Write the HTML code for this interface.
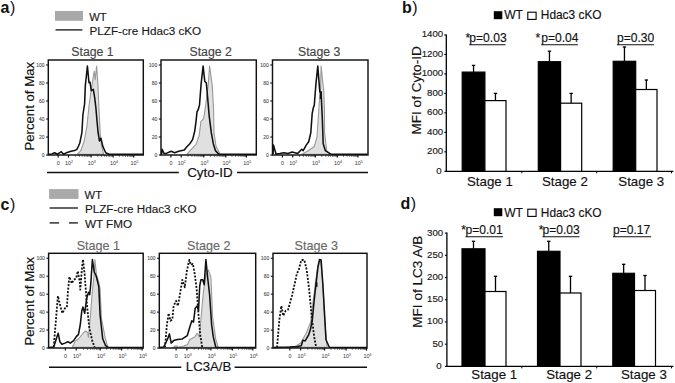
<!DOCTYPE html>
<html><head><meta charset="utf-8">
<style>
html,body{margin:0;padding:0;background:#fff;}
body{width:675px;height:383px;overflow:hidden;}
svg{display:block;font-family:"Liberation Sans", sans-serif;}
</style></head>
<body>
<svg width="675" height="383" viewBox="0 0 675 383">
<rect width="675" height="383" fill="#fff"/>
<text x="0.5" y="12.8" font-size="16" fill="#111"><tspan font-weight="bold">a</tspan><tspan dx="0.5">)</tspan></text>
<text x="402" y="12.8" font-size="16" fill="#111"><tspan font-weight="bold">b</tspan><tspan dx="0.5">)</tspan></text>
<text x="0.5" y="209.5" font-size="16" fill="#111"><tspan font-weight="bold">c</tspan><tspan dx="0.5">)</tspan></text>
<text x="400.5" y="209.3" font-size="16" fill="#111"><tspan font-weight="bold">d</tspan><tspan dx="0.5">)</tspan></text>
<rect x="55" y="11" width="28" height="9.8" fill="#a9a9a9" stroke="none" stroke-width="1"/>
<text x="89.2" y="20.6" font-size="11.2" fill="#1a1a1a" stroke="#1a1a1a" stroke-width="0.15" text-anchor="start" font-weight="normal" >WT</text>
<line x1="55.50" y1="29.90" x2="82.40" y2="29.90" stroke="#222" stroke-width="1.4" />
<text x="89.5" y="34.8" font-size="11.7" fill="#1a1a1a" stroke="#1a1a1a" stroke-width="0.15" text-anchor="start" font-weight="normal" >PLZF-cre Hdac3 cKO</text>
<rect x="49.1" y="189.1" width="29.4" height="9.8" fill="#a9a9a9" stroke="none" stroke-width="1"/>
<text x="84.60000000000001" y="198.7" font-size="11.2" fill="#1a1a1a" stroke="#1a1a1a" stroke-width="0.15" text-anchor="start" font-weight="normal" >WT</text>
<line x1="49.60" y1="208.00" x2="77.90" y2="208.00" stroke="#222" stroke-width="1.4" />
<text x="84.9" y="212.9" font-size="11.7" fill="#1a1a1a" stroke="#1a1a1a" stroke-width="0.15" text-anchor="start" font-weight="normal" >PLZF-cre Hdac3 cKO</text>
<line x1="49.60" y1="222.90" x2="59.10" y2="222.90" stroke="#222" stroke-width="1.4" />
<line x1="69.00" y1="222.90" x2="77.90" y2="222.90" stroke="#222" stroke-width="1.4" />
<text x="84.9" y="227.7" font-size="11.7" fill="#1a1a1a" stroke="#1a1a1a" stroke-width="0.15" text-anchor="start" font-weight="normal" >WT FMO</text>
<polygon points="77.3,154.2 80.8,150.7 84.2,141.0 87.0,125.8 89.1,105.0 92.0,85.0 94.2,71.0 95.2,80.0 96.6,66.1 97.9,84.0 98.9,108.0 100.2,132.7 101.6,146.6 103.6,154.2" fill="#e0e0e0" stroke="#9a9a9a" stroke-width="1.1" stroke-linejoin="round"/>
<polyline points="48.5,154.3 52.0,154.0 54.6,152.7 57.6,154.2 61.3,151.7 63.5,154.2 67.2,152.4 70.9,151.2 74.6,150.6 76.9,149.4 78.3,146.5 79.8,143.0 81.9,132.7 82.9,115.0 83.8,109.0 84.6,104.0 85.3,86.0 87.4,66.1 89.0,82.8 90.0,82.1 91.3,90.6 93.3,89.3 94.6,97.2 95.9,108.0 96.7,117.5 98.1,132.7 99.5,141.0 100.9,138.2 102.9,146.6 105.7,152.8 109.2,154.2 143.0,154.3" fill="none" stroke="#111" stroke-width="1.55" stroke-linejoin="round"/>
<polygon points="187.0,154.2 191.2,149.3 196.0,144.4 199.2,135.4 200.9,121.6 203.6,118.8 205.7,105.0 208.3,84.0 209.6,66.1 212.2,85.4 213.5,108.0 214.0,132.7 216.1,146.5 220.2,154.2" fill="#e0e0e0" stroke="#9a9a9a" stroke-width="1.1" stroke-linejoin="round"/>
<polyline points="161.5,154.3 162.1,149.3 164.0,153.4 166.3,153.4 171.1,151.3 174.6,152.7 178.7,151.3 184.3,150.0 186.4,147.2 189.8,143.7 192.6,139.6 194.7,131.3 196.0,121.6 197.0,111.9 198.4,109.1 199.5,105.0 201.1,84.1 203.1,66.1 204.8,81.5 206.3,82.8 207.6,97.2 209.2,116.1 211.3,132.7 213.3,143.7 215.4,150.6 218.9,154.2 256.0,154.3" fill="none" stroke="#111" stroke-width="1.55" stroke-linejoin="round"/>
<polygon points="301.8,154.2 307.3,151.3 314.3,146.5 317.0,136.8 319.1,105.0 320.5,90.0 321.1,66.1 323.7,90.6 324.4,108.0 324.6,132.7 326.7,150.6 329.5,154.2" fill="#e0e0e0" stroke="#9a9a9a" stroke-width="1.1" stroke-linejoin="round"/>
<polyline points="273.0,154.3 273.5,145.1 276.0,154.0 280.0,153.5 283.8,152.7 288.0,153.5 292.1,152.0 297.7,153.4 301.8,149.3 303.2,150.6 306.2,145.1 308.7,141.7 310.8,132.7 312.2,113.3 313.3,108.0 314.3,105.0 315.9,84.1 317.8,66.1 319.2,84.1 319.8,92.0 321.1,92.0 321.8,108.0 322.3,118.0 323.2,143.7 325.3,150.6 330.9,154.2 367.5,154.3" fill="none" stroke="#111" stroke-width="1.55" stroke-linejoin="round"/>
<polygon points="72.3,347.3 75.3,341.0 78.5,339.0 83.2,333.0 85.8,331.0 87.7,332.5 88.4,337.5 90.5,315.0 92.3,291.8 94.2,274.9 94.9,259.5 96.5,275.0 98.8,282.0 100.1,289.0 101.4,318.0 105.4,338.8 108.0,347.3" fill="#e0e0e0" stroke="#9a9a9a" stroke-width="1.1" stroke-linejoin="round"/>
<polyline points="53.7,347.0 57.9,296.0 59.9,304.6 62.4,313.3 64.9,308.3 66.9,307.1 67.9,292.2 69.4,276.8 71.8,283.5 73.6,279.8 76.1,278.6 77.8,271.1 79.8,282.3 80.3,289.7 81.8,269.9 83.0,259.5 84.7,274.9 86.7,302.1 89.2,327.0 92.2,340.6 94.7,347.5" fill="none" stroke="#111" stroke-width="1.8" stroke-dasharray="2 1.5" stroke-linejoin="round"/>
<polyline points="48.8,347.5 53.7,347.0 56.9,336.9 58.2,333.2 59.9,341.8 61.9,344.3 64.9,343.1 67.9,341.8 70.3,343.1 73.6,340.6 76.1,336.9 78.5,334.4 80.3,324.5 81.8,310.8 83.0,307.1 84.7,313.3 86.7,298.4 88.5,292.2 89.7,294.7 90.9,282.3 92.4,259.5 94.2,272.0 96.2,276.0 98.8,286.6 100.1,315.0 102.7,338.8 105.4,345.3 108.0,347.3 143.0,347.5" fill="none" stroke="#111" stroke-width="1.55" stroke-linejoin="round"/>
<polygon points="173.0,347.3 176.0,345.8 178.5,347.0 184.0,346.0 187.5,344.5 189.8,339.4 194.7,336.9 197.2,333.2 199.2,336.9 200.9,319.5 203.4,292.2 205.9,274.9 208.4,269.9 210.9,277.3 212.6,317.0 215.8,339.4 218.3,347.3" fill="#e0e0e0" stroke="#9a9a9a" stroke-width="1.1" stroke-linejoin="round"/>
<polyline points="165.0,347.5 166.9,324.5 168.7,313.3 170.4,320.8 172.4,319.5 173.6,305.9 176.1,300.9 177.9,305.9 179.9,294.7 182.3,279.8 184.8,287.3 186.8,271.1 189.3,260.0 191.0,264.9 192.8,263.7 194.7,273.6 196.7,289.7 198.5,314.6 200.2,334.4 202.2,347.5" fill="none" stroke="#111" stroke-width="1.8" stroke-dasharray="2 1.5" stroke-linejoin="round"/>
<polyline points="159.6,347.5 163.7,347.0 167.4,339.4 169.4,333.9 171.2,343.1 173.6,340.6 177.4,339.4 182.3,338.9 187.3,335.6 189.8,327.0 191.8,320.8 193.5,322.0 195.2,308.3 197.2,305.9 198.5,310.8 199.7,286.0 200.9,279.8 202.7,279.8 204.2,284.8 205.9,259.5 207.6,277.3 209.6,294.7 211.6,324.5 213.3,336.9 215.8,347.3 255.5,347.5" fill="none" stroke="#111" stroke-width="1.55" stroke-linejoin="round"/>
<polygon points="285.0,347.3 295.2,346.5 300.7,343.0 306.2,333.2 310.6,322.2 313.0,302.1 316.2,277.3 318.6,261.2 320.6,260.0 322.9,284.8 324.6,319.5 327.1,347.3" fill="#e0e0e0" stroke="#9a9a9a" stroke-width="1.1" stroke-linejoin="round"/>
<polyline points="277.0,347.5 279.4,319.5 281.4,305.9 283.2,315.8 285.6,310.8 288.1,309.6 291.9,296.0 295.6,279.8 296.8,273.6 298.8,269.9 301.3,260.0 304.3,260.0 306.7,269.9 309.2,289.7 311.7,317.0 314.2,336.9 316.2,347.5" fill="none" stroke="#111" stroke-width="1.8" stroke-dasharray="2 1.5" stroke-linejoin="round"/>
<polyline points="273.3,347.5 280.0,347.2 290.0,347.0 297.4,346.5 301.3,345.8 302.9,340.3 305.1,340.9 308.4,335.4 310.6,328.8 312.3,320.0 314.2,300.0 316.2,282.3 317.9,267.4 319.6,259.5 321.1,260.0 322.9,284.8 324.9,320.0 326.0,339.8 329.3,347.3 366.8,347.5" fill="none" stroke="#111" stroke-width="1.55" stroke-linejoin="round"/>
<rect x="319.7" y="91.5" width="2.1" height="7.5" fill="#111" stroke="none" stroke-width="1"/>
<rect x="315.6" y="282.3" width="1.9" height="4.6" fill="#111" stroke="none" stroke-width="1"/>
<line x1="46.10" y1="155.00" x2="48.30" y2="155.00" stroke="#111" stroke-width="1.1" />
<text x="44.5" y="156.8" font-size="5" fill="#444" stroke="#444" stroke-width="0.08" text-anchor="end" font-weight="normal" >0</text>
<line x1="46.10" y1="137.00" x2="48.30" y2="137.00" stroke="#111" stroke-width="1.1" />
<text x="44.5" y="138.8" font-size="5" fill="#444" stroke="#444" stroke-width="0.08" text-anchor="end" font-weight="normal" >20</text>
<line x1="46.10" y1="119.00" x2="48.30" y2="119.00" stroke="#111" stroke-width="1.1" />
<text x="44.5" y="120.8" font-size="5" fill="#444" stroke="#444" stroke-width="0.08" text-anchor="end" font-weight="normal" >40</text>
<line x1="46.10" y1="101.00" x2="48.30" y2="101.00" stroke="#111" stroke-width="1.1" />
<text x="44.5" y="102.8" font-size="5" fill="#444" stroke="#444" stroke-width="0.08" text-anchor="end" font-weight="normal" >60</text>
<line x1="46.10" y1="83.00" x2="48.30" y2="83.00" stroke="#111" stroke-width="1.1" />
<text x="44.5" y="84.8" font-size="5" fill="#444" stroke="#444" stroke-width="0.08" text-anchor="end" font-weight="normal" >80</text>
<line x1="46.10" y1="65.00" x2="48.30" y2="65.00" stroke="#111" stroke-width="1.1" />
<text x="44.5" y="66.8" font-size="5" fill="#444" stroke="#444" stroke-width="0.08" text-anchor="end" font-weight="normal" >100</text>
<line x1="75.30" y1="155.00" x2="75.30" y2="156.90" stroke="#555" stroke-width="0.8" />
<line x1="79.28" y1="155.00" x2="79.28" y2="156.90" stroke="#555" stroke-width="0.8" />
<line x1="82.11" y1="155.00" x2="82.11" y2="156.90" stroke="#555" stroke-width="0.8" />
<line x1="84.30" y1="155.00" x2="84.30" y2="156.90" stroke="#555" stroke-width="0.8" />
<line x1="86.09" y1="155.00" x2="86.09" y2="156.90" stroke="#555" stroke-width="0.8" />
<line x1="87.60" y1="155.00" x2="87.60" y2="156.90" stroke="#555" stroke-width="0.8" />
<line x1="88.91" y1="155.00" x2="88.91" y2="156.90" stroke="#555" stroke-width="0.8" />
<line x1="90.07" y1="155.00" x2="90.07" y2="156.90" stroke="#555" stroke-width="0.8" />
<line x1="97.72" y1="155.00" x2="97.72" y2="156.90" stroke="#555" stroke-width="0.8" />
<line x1="101.60" y1="155.00" x2="101.60" y2="156.90" stroke="#555" stroke-width="0.8" />
<line x1="104.35" y1="155.00" x2="104.35" y2="156.90" stroke="#555" stroke-width="0.8" />
<line x1="106.48" y1="155.00" x2="106.48" y2="156.90" stroke="#555" stroke-width="0.8" />
<line x1="108.22" y1="155.00" x2="108.22" y2="156.90" stroke="#555" stroke-width="0.8" />
<line x1="109.69" y1="155.00" x2="109.69" y2="156.90" stroke="#555" stroke-width="0.8" />
<line x1="110.97" y1="155.00" x2="110.97" y2="156.90" stroke="#555" stroke-width="0.8" />
<line x1="112.09" y1="155.00" x2="112.09" y2="156.90" stroke="#555" stroke-width="0.8" />
<line x1="119.30" y1="155.00" x2="119.30" y2="156.90" stroke="#555" stroke-width="0.8" />
<line x1="122.93" y1="155.00" x2="122.93" y2="156.90" stroke="#555" stroke-width="0.8" />
<line x1="125.50" y1="155.00" x2="125.50" y2="156.90" stroke="#555" stroke-width="0.8" />
<line x1="127.50" y1="155.00" x2="127.50" y2="156.90" stroke="#555" stroke-width="0.8" />
<line x1="129.13" y1="155.00" x2="129.13" y2="156.90" stroke="#555" stroke-width="0.8" />
<line x1="130.51" y1="155.00" x2="130.51" y2="156.90" stroke="#555" stroke-width="0.8" />
<line x1="131.70" y1="155.00" x2="131.70" y2="156.90" stroke="#555" stroke-width="0.8" />
<line x1="132.76" y1="155.00" x2="132.76" y2="156.90" stroke="#555" stroke-width="0.8" />
<line x1="113.10" y1="155.00" x2="113.10" y2="157.60" stroke="#111" stroke-width="1.2" />
<line x1="91.10" y1="155.00" x2="91.10" y2="157.60" stroke="#111" stroke-width="1.2" />
<line x1="68.50" y1="155.00" x2="68.50" y2="157.60" stroke="#111" stroke-width="1.2" />
<line x1="133.70" y1="155.00" x2="133.70" y2="157.60" stroke="#111" stroke-width="1.2" />
<line x1="58.20" y1="155.00" x2="58.20" y2="157.60" stroke="#111" stroke-width="1.2" />
<rect x="48.3" y="60" width="95.00000000000001" height="95" fill="none" stroke="#111" stroke-width="1.45"/>
<text x="71.3" y="55.5" font-size="12.3" fill="#444" stroke="#444" stroke-width="0.15" text-anchor="start" font-weight="normal" >Stage 1</text>
<text x="58.199999999999996" y="165.3" font-size="5.4" fill="#333" text-anchor="middle">0</text>
<text x="69.1" y="165.3" font-size="5.4" fill="#333" text-anchor="middle">10<tspan dy="-2" font-size="3.6">2</tspan></text>
<text x="91.8" y="165.3" font-size="5.4" fill="#333" text-anchor="middle">10<tspan dy="-2" font-size="3.6">3</tspan></text>
<text x="113.89999999999999" y="165.3" font-size="5.4" fill="#333" text-anchor="middle">10<tspan dy="-2" font-size="3.6">4</tspan></text>
<text x="134.5" y="165.3" font-size="5.4" fill="#333" text-anchor="middle">10<tspan dy="-2" font-size="3.6">5</tspan></text>
<line x1="158.80" y1="155.00" x2="161.00" y2="155.00" stroke="#111" stroke-width="1.1" />
<text x="157.2" y="156.8" font-size="5" fill="#444" stroke="#444" stroke-width="0.08" text-anchor="end" font-weight="normal" >0</text>
<line x1="158.80" y1="137.00" x2="161.00" y2="137.00" stroke="#111" stroke-width="1.1" />
<text x="157.2" y="138.8" font-size="5" fill="#444" stroke="#444" stroke-width="0.08" text-anchor="end" font-weight="normal" >20</text>
<line x1="158.80" y1="119.00" x2="161.00" y2="119.00" stroke="#111" stroke-width="1.1" />
<text x="157.2" y="120.8" font-size="5" fill="#444" stroke="#444" stroke-width="0.08" text-anchor="end" font-weight="normal" >40</text>
<line x1="158.80" y1="101.00" x2="161.00" y2="101.00" stroke="#111" stroke-width="1.1" />
<text x="157.2" y="102.8" font-size="5" fill="#444" stroke="#444" stroke-width="0.08" text-anchor="end" font-weight="normal" >60</text>
<line x1="158.80" y1="83.00" x2="161.00" y2="83.00" stroke="#111" stroke-width="1.1" />
<text x="157.2" y="84.8" font-size="5" fill="#444" stroke="#444" stroke-width="0.08" text-anchor="end" font-weight="normal" >80</text>
<line x1="158.80" y1="65.00" x2="161.00" y2="65.00" stroke="#111" stroke-width="1.1" />
<text x="157.2" y="66.8" font-size="5" fill="#444" stroke="#444" stroke-width="0.08" text-anchor="end" font-weight="normal" >100</text>
<line x1="188.00" y1="155.00" x2="188.00" y2="156.90" stroke="#555" stroke-width="0.8" />
<line x1="191.98" y1="155.00" x2="191.98" y2="156.90" stroke="#555" stroke-width="0.8" />
<line x1="194.81" y1="155.00" x2="194.81" y2="156.90" stroke="#555" stroke-width="0.8" />
<line x1="197.00" y1="155.00" x2="197.00" y2="156.90" stroke="#555" stroke-width="0.8" />
<line x1="198.79" y1="155.00" x2="198.79" y2="156.90" stroke="#555" stroke-width="0.8" />
<line x1="200.30" y1="155.00" x2="200.30" y2="156.90" stroke="#555" stroke-width="0.8" />
<line x1="201.61" y1="155.00" x2="201.61" y2="156.90" stroke="#555" stroke-width="0.8" />
<line x1="202.77" y1="155.00" x2="202.77" y2="156.90" stroke="#555" stroke-width="0.8" />
<line x1="210.42" y1="155.00" x2="210.42" y2="156.90" stroke="#555" stroke-width="0.8" />
<line x1="214.30" y1="155.00" x2="214.30" y2="156.90" stroke="#555" stroke-width="0.8" />
<line x1="217.05" y1="155.00" x2="217.05" y2="156.90" stroke="#555" stroke-width="0.8" />
<line x1="219.18" y1="155.00" x2="219.18" y2="156.90" stroke="#555" stroke-width="0.8" />
<line x1="220.92" y1="155.00" x2="220.92" y2="156.90" stroke="#555" stroke-width="0.8" />
<line x1="222.39" y1="155.00" x2="222.39" y2="156.90" stroke="#555" stroke-width="0.8" />
<line x1="223.67" y1="155.00" x2="223.67" y2="156.90" stroke="#555" stroke-width="0.8" />
<line x1="224.79" y1="155.00" x2="224.79" y2="156.90" stroke="#555" stroke-width="0.8" />
<line x1="232.00" y1="155.00" x2="232.00" y2="156.90" stroke="#555" stroke-width="0.8" />
<line x1="235.63" y1="155.00" x2="235.63" y2="156.90" stroke="#555" stroke-width="0.8" />
<line x1="238.20" y1="155.00" x2="238.20" y2="156.90" stroke="#555" stroke-width="0.8" />
<line x1="240.20" y1="155.00" x2="240.20" y2="156.90" stroke="#555" stroke-width="0.8" />
<line x1="241.83" y1="155.00" x2="241.83" y2="156.90" stroke="#555" stroke-width="0.8" />
<line x1="243.21" y1="155.00" x2="243.21" y2="156.90" stroke="#555" stroke-width="0.8" />
<line x1="244.40" y1="155.00" x2="244.40" y2="156.90" stroke="#555" stroke-width="0.8" />
<line x1="245.46" y1="155.00" x2="245.46" y2="156.90" stroke="#555" stroke-width="0.8" />
<line x1="225.80" y1="155.00" x2="225.80" y2="157.60" stroke="#111" stroke-width="1.2" />
<line x1="203.80" y1="155.00" x2="203.80" y2="157.60" stroke="#111" stroke-width="1.2" />
<line x1="181.20" y1="155.00" x2="181.20" y2="157.60" stroke="#111" stroke-width="1.2" />
<line x1="246.40" y1="155.00" x2="246.40" y2="157.60" stroke="#111" stroke-width="1.2" />
<line x1="170.90" y1="155.00" x2="170.90" y2="157.60" stroke="#111" stroke-width="1.2" />
<rect x="161" y="60" width="95.30000000000001" height="95" fill="none" stroke="#111" stroke-width="1.45"/>
<text x="189.5" y="55.5" font-size="12.3" fill="#444" stroke="#444" stroke-width="0.15" text-anchor="start" font-weight="normal" >Stage 2</text>
<text x="170.9" y="165.3" font-size="5.4" fill="#333" text-anchor="middle">0</text>
<text x="181.8" y="165.3" font-size="5.4" fill="#333" text-anchor="middle">10<tspan dy="-2" font-size="3.6">2</tspan></text>
<text x="204.5" y="165.3" font-size="5.4" fill="#333" text-anchor="middle">10<tspan dy="-2" font-size="3.6">3</tspan></text>
<text x="226.6" y="165.3" font-size="5.4" fill="#333" text-anchor="middle">10<tspan dy="-2" font-size="3.6">4</tspan></text>
<text x="247.2" y="165.3" font-size="5.4" fill="#333" text-anchor="middle">10<tspan dy="-2" font-size="3.6">5</tspan></text>
<line x1="270.30" y1="155.00" x2="272.50" y2="155.00" stroke="#111" stroke-width="1.1" />
<text x="268.7" y="156.8" font-size="5" fill="#444" stroke="#444" stroke-width="0.08" text-anchor="end" font-weight="normal" >0</text>
<line x1="270.30" y1="137.00" x2="272.50" y2="137.00" stroke="#111" stroke-width="1.1" />
<text x="268.7" y="138.8" font-size="5" fill="#444" stroke="#444" stroke-width="0.08" text-anchor="end" font-weight="normal" >20</text>
<line x1="270.30" y1="119.00" x2="272.50" y2="119.00" stroke="#111" stroke-width="1.1" />
<text x="268.7" y="120.8" font-size="5" fill="#444" stroke="#444" stroke-width="0.08" text-anchor="end" font-weight="normal" >40</text>
<line x1="270.30" y1="101.00" x2="272.50" y2="101.00" stroke="#111" stroke-width="1.1" />
<text x="268.7" y="102.8" font-size="5" fill="#444" stroke="#444" stroke-width="0.08" text-anchor="end" font-weight="normal" >60</text>
<line x1="270.30" y1="83.00" x2="272.50" y2="83.00" stroke="#111" stroke-width="1.1" />
<text x="268.7" y="84.8" font-size="5" fill="#444" stroke="#444" stroke-width="0.08" text-anchor="end" font-weight="normal" >80</text>
<line x1="270.30" y1="65.00" x2="272.50" y2="65.00" stroke="#111" stroke-width="1.1" />
<text x="268.7" y="66.8" font-size="5" fill="#444" stroke="#444" stroke-width="0.08" text-anchor="end" font-weight="normal" >100</text>
<line x1="299.50" y1="155.00" x2="299.50" y2="156.90" stroke="#555" stroke-width="0.8" />
<line x1="303.48" y1="155.00" x2="303.48" y2="156.90" stroke="#555" stroke-width="0.8" />
<line x1="306.31" y1="155.00" x2="306.31" y2="156.90" stroke="#555" stroke-width="0.8" />
<line x1="308.50" y1="155.00" x2="308.50" y2="156.90" stroke="#555" stroke-width="0.8" />
<line x1="310.29" y1="155.00" x2="310.29" y2="156.90" stroke="#555" stroke-width="0.8" />
<line x1="311.80" y1="155.00" x2="311.80" y2="156.90" stroke="#555" stroke-width="0.8" />
<line x1="313.11" y1="155.00" x2="313.11" y2="156.90" stroke="#555" stroke-width="0.8" />
<line x1="314.27" y1="155.00" x2="314.27" y2="156.90" stroke="#555" stroke-width="0.8" />
<line x1="321.92" y1="155.00" x2="321.92" y2="156.90" stroke="#555" stroke-width="0.8" />
<line x1="325.80" y1="155.00" x2="325.80" y2="156.90" stroke="#555" stroke-width="0.8" />
<line x1="328.55" y1="155.00" x2="328.55" y2="156.90" stroke="#555" stroke-width="0.8" />
<line x1="330.68" y1="155.00" x2="330.68" y2="156.90" stroke="#555" stroke-width="0.8" />
<line x1="332.42" y1="155.00" x2="332.42" y2="156.90" stroke="#555" stroke-width="0.8" />
<line x1="333.89" y1="155.00" x2="333.89" y2="156.90" stroke="#555" stroke-width="0.8" />
<line x1="335.17" y1="155.00" x2="335.17" y2="156.90" stroke="#555" stroke-width="0.8" />
<line x1="336.29" y1="155.00" x2="336.29" y2="156.90" stroke="#555" stroke-width="0.8" />
<line x1="343.50" y1="155.00" x2="343.50" y2="156.90" stroke="#555" stroke-width="0.8" />
<line x1="347.13" y1="155.00" x2="347.13" y2="156.90" stroke="#555" stroke-width="0.8" />
<line x1="349.70" y1="155.00" x2="349.70" y2="156.90" stroke="#555" stroke-width="0.8" />
<line x1="351.70" y1="155.00" x2="351.70" y2="156.90" stroke="#555" stroke-width="0.8" />
<line x1="353.33" y1="155.00" x2="353.33" y2="156.90" stroke="#555" stroke-width="0.8" />
<line x1="354.71" y1="155.00" x2="354.71" y2="156.90" stroke="#555" stroke-width="0.8" />
<line x1="355.90" y1="155.00" x2="355.90" y2="156.90" stroke="#555" stroke-width="0.8" />
<line x1="356.96" y1="155.00" x2="356.96" y2="156.90" stroke="#555" stroke-width="0.8" />
<line x1="337.30" y1="155.00" x2="337.30" y2="157.60" stroke="#111" stroke-width="1.2" />
<line x1="315.30" y1="155.00" x2="315.30" y2="157.60" stroke="#111" stroke-width="1.2" />
<line x1="292.70" y1="155.00" x2="292.70" y2="157.60" stroke="#111" stroke-width="1.2" />
<line x1="357.90" y1="155.00" x2="357.90" y2="157.60" stroke="#111" stroke-width="1.2" />
<line x1="282.40" y1="155.00" x2="282.40" y2="157.60" stroke="#111" stroke-width="1.2" />
<rect x="272.5" y="60" width="95.5" height="95" fill="none" stroke="#111" stroke-width="1.45"/>
<text x="298" y="55.7" font-size="12.3" fill="#444" stroke="#444" stroke-width="0.15" text-anchor="start" font-weight="normal" >Stage 3</text>
<text x="282.4" y="165.3" font-size="5.4" fill="#333" text-anchor="middle">0</text>
<text x="293.3" y="165.3" font-size="5.4" fill="#333" text-anchor="middle">10<tspan dy="-2" font-size="3.6">2</tspan></text>
<text x="316.0" y="165.3" font-size="5.4" fill="#333" text-anchor="middle">10<tspan dy="-2" font-size="3.6">3</tspan></text>
<text x="338.1" y="165.3" font-size="5.4" fill="#333" text-anchor="middle">10<tspan dy="-2" font-size="3.6">4</tspan></text>
<text x="358.7" y="165.3" font-size="5.4" fill="#333" text-anchor="middle">10<tspan dy="-2" font-size="3.6">5</tspan></text>
<line x1="46.40" y1="348.00" x2="48.60" y2="348.00" stroke="#111" stroke-width="1.1" />
<text x="44.800000000000004" y="349.8" font-size="5" fill="#444" stroke="#444" stroke-width="0.08" text-anchor="end" font-weight="normal" >0</text>
<line x1="46.40" y1="330.06" x2="48.60" y2="330.06" stroke="#111" stroke-width="1.1" />
<text x="44.800000000000004" y="331.86" font-size="5" fill="#444" stroke="#444" stroke-width="0.08" text-anchor="end" font-weight="normal" >20</text>
<line x1="46.40" y1="312.12" x2="48.60" y2="312.12" stroke="#111" stroke-width="1.1" />
<text x="44.800000000000004" y="313.92" font-size="5" fill="#444" stroke="#444" stroke-width="0.08" text-anchor="end" font-weight="normal" >40</text>
<line x1="46.40" y1="294.18" x2="48.60" y2="294.18" stroke="#111" stroke-width="1.1" />
<text x="44.800000000000004" y="295.98" font-size="5" fill="#444" stroke="#444" stroke-width="0.08" text-anchor="end" font-weight="normal" >60</text>
<line x1="46.40" y1="276.24" x2="48.60" y2="276.24" stroke="#111" stroke-width="1.1" />
<text x="44.800000000000004" y="278.04" font-size="5" fill="#444" stroke="#444" stroke-width="0.08" text-anchor="end" font-weight="normal" >80</text>
<line x1="46.40" y1="258.30" x2="48.60" y2="258.30" stroke="#111" stroke-width="1.1" />
<text x="44.800000000000004" y="260.1" font-size="5" fill="#444" stroke="#444" stroke-width="0.08" text-anchor="end" font-weight="normal" >100</text>
<line x1="83.42" y1="348.00" x2="83.42" y2="349.90" stroke="#555" stroke-width="0.8" />
<line x1="87.65" y1="348.00" x2="87.65" y2="349.90" stroke="#555" stroke-width="0.8" />
<line x1="90.65" y1="348.00" x2="90.65" y2="349.90" stroke="#555" stroke-width="0.8" />
<line x1="92.98" y1="348.00" x2="92.98" y2="349.90" stroke="#555" stroke-width="0.8" />
<line x1="94.88" y1="348.00" x2="94.88" y2="349.90" stroke="#555" stroke-width="0.8" />
<line x1="96.48" y1="348.00" x2="96.48" y2="349.90" stroke="#555" stroke-width="0.8" />
<line x1="97.87" y1="348.00" x2="97.87" y2="349.90" stroke="#555" stroke-width="0.8" />
<line x1="99.10" y1="348.00" x2="99.10" y2="349.90" stroke="#555" stroke-width="0.8" />
<line x1="106.67" y1="348.00" x2="106.67" y2="349.90" stroke="#555" stroke-width="0.8" />
<line x1="110.46" y1="348.00" x2="110.46" y2="349.90" stroke="#555" stroke-width="0.8" />
<line x1="113.14" y1="348.00" x2="113.14" y2="349.90" stroke="#555" stroke-width="0.8" />
<line x1="115.23" y1="348.00" x2="115.23" y2="349.90" stroke="#555" stroke-width="0.8" />
<line x1="116.93" y1="348.00" x2="116.93" y2="349.90" stroke="#555" stroke-width="0.8" />
<line x1="118.37" y1="348.00" x2="118.37" y2="349.90" stroke="#555" stroke-width="0.8" />
<line x1="119.62" y1="348.00" x2="119.62" y2="349.90" stroke="#555" stroke-width="0.8" />
<line x1="120.72" y1="348.00" x2="120.72" y2="349.90" stroke="#555" stroke-width="0.8" />
<line x1="127.84" y1="348.00" x2="127.84" y2="349.90" stroke="#555" stroke-width="0.8" />
<line x1="131.43" y1="348.00" x2="131.43" y2="349.90" stroke="#555" stroke-width="0.8" />
<line x1="133.98" y1="348.00" x2="133.98" y2="349.90" stroke="#555" stroke-width="0.8" />
<line x1="135.96" y1="348.00" x2="135.96" y2="349.90" stroke="#555" stroke-width="0.8" />
<line x1="137.57" y1="348.00" x2="137.57" y2="349.90" stroke="#555" stroke-width="0.8" />
<line x1="138.94" y1="348.00" x2="138.94" y2="349.90" stroke="#555" stroke-width="0.8" />
<line x1="140.12" y1="348.00" x2="140.12" y2="349.90" stroke="#555" stroke-width="0.8" />
<line x1="141.17" y1="348.00" x2="141.17" y2="349.90" stroke="#555" stroke-width="0.8" />
<line x1="100.20" y1="348.00" x2="100.20" y2="350.60" stroke="#111" stroke-width="1.2" />
<line x1="121.70" y1="348.00" x2="121.70" y2="350.60" stroke="#111" stroke-width="1.2" />
<line x1="76.20" y1="348.00" x2="76.20" y2="350.60" stroke="#111" stroke-width="1.2" />
<line x1="142.10" y1="348.00" x2="142.10" y2="350.60" stroke="#111" stroke-width="1.2" />
<line x1="65.40" y1="348.00" x2="65.40" y2="350.60" stroke="#111" stroke-width="1.2" />
<rect x="48.6" y="253.3" width="94.6" height="94.69999999999999" fill="none" stroke="#111" stroke-width="1.45"/>
<text x="76.7" y="249.7" font-size="12.6" fill="#6a6a6a" stroke="#6a6a6a" stroke-width="0.15" text-anchor="start" font-weight="normal" >Stage 1</text>
<text x="65.6" y="357.6" font-size="5.4" fill="#333" text-anchor="middle">0</text>
<text x="77.1" y="357.6" font-size="5.4" fill="#333" text-anchor="middle">10<tspan dy="-2" font-size="3.6">3</tspan></text>
<text x="101.1" y="357.6" font-size="5.4" fill="#333" text-anchor="middle">10<tspan dy="-2" font-size="3.6">4</tspan></text>
<text x="122.6" y="357.6" font-size="5.4" fill="#333" text-anchor="middle">10<tspan dy="-2" font-size="3.6">5</tspan></text>
<text x="143.0" y="357.6" font-size="5.4" fill="#333" text-anchor="middle">10<tspan dy="-2" font-size="3.6">6</tspan></text>
<line x1="157.10" y1="348.00" x2="159.30" y2="348.00" stroke="#111" stroke-width="1.1" />
<text x="155.5" y="349.8" font-size="5" fill="#444" stroke="#444" stroke-width="0.08" text-anchor="end" font-weight="normal" >0</text>
<line x1="157.10" y1="330.06" x2="159.30" y2="330.06" stroke="#111" stroke-width="1.1" />
<text x="155.5" y="331.86" font-size="5" fill="#444" stroke="#444" stroke-width="0.08" text-anchor="end" font-weight="normal" >20</text>
<line x1="157.10" y1="312.12" x2="159.30" y2="312.12" stroke="#111" stroke-width="1.1" />
<text x="155.5" y="313.92" font-size="5" fill="#444" stroke="#444" stroke-width="0.08" text-anchor="end" font-weight="normal" >40</text>
<line x1="157.10" y1="294.18" x2="159.30" y2="294.18" stroke="#111" stroke-width="1.1" />
<text x="155.5" y="295.98" font-size="5" fill="#444" stroke="#444" stroke-width="0.08" text-anchor="end" font-weight="normal" >60</text>
<line x1="157.10" y1="276.24" x2="159.30" y2="276.24" stroke="#111" stroke-width="1.1" />
<text x="155.5" y="278.04" font-size="5" fill="#444" stroke="#444" stroke-width="0.08" text-anchor="end" font-weight="normal" >80</text>
<line x1="157.10" y1="258.30" x2="159.30" y2="258.30" stroke="#111" stroke-width="1.1" />
<text x="155.5" y="260.1" font-size="5" fill="#444" stroke="#444" stroke-width="0.08" text-anchor="end" font-weight="normal" >100</text>
<line x1="194.12" y1="348.00" x2="194.12" y2="349.90" stroke="#555" stroke-width="0.8" />
<line x1="198.35" y1="348.00" x2="198.35" y2="349.90" stroke="#555" stroke-width="0.8" />
<line x1="201.35" y1="348.00" x2="201.35" y2="349.90" stroke="#555" stroke-width="0.8" />
<line x1="203.68" y1="348.00" x2="203.68" y2="349.90" stroke="#555" stroke-width="0.8" />
<line x1="205.58" y1="348.00" x2="205.58" y2="349.90" stroke="#555" stroke-width="0.8" />
<line x1="207.18" y1="348.00" x2="207.18" y2="349.90" stroke="#555" stroke-width="0.8" />
<line x1="208.57" y1="348.00" x2="208.57" y2="349.90" stroke="#555" stroke-width="0.8" />
<line x1="209.80" y1="348.00" x2="209.80" y2="349.90" stroke="#555" stroke-width="0.8" />
<line x1="217.37" y1="348.00" x2="217.37" y2="349.90" stroke="#555" stroke-width="0.8" />
<line x1="221.16" y1="348.00" x2="221.16" y2="349.90" stroke="#555" stroke-width="0.8" />
<line x1="223.84" y1="348.00" x2="223.84" y2="349.90" stroke="#555" stroke-width="0.8" />
<line x1="225.93" y1="348.00" x2="225.93" y2="349.90" stroke="#555" stroke-width="0.8" />
<line x1="227.63" y1="348.00" x2="227.63" y2="349.90" stroke="#555" stroke-width="0.8" />
<line x1="229.07" y1="348.00" x2="229.07" y2="349.90" stroke="#555" stroke-width="0.8" />
<line x1="230.32" y1="348.00" x2="230.32" y2="349.90" stroke="#555" stroke-width="0.8" />
<line x1="231.42" y1="348.00" x2="231.42" y2="349.90" stroke="#555" stroke-width="0.8" />
<line x1="238.54" y1="348.00" x2="238.54" y2="349.90" stroke="#555" stroke-width="0.8" />
<line x1="242.13" y1="348.00" x2="242.13" y2="349.90" stroke="#555" stroke-width="0.8" />
<line x1="244.68" y1="348.00" x2="244.68" y2="349.90" stroke="#555" stroke-width="0.8" />
<line x1="246.66" y1="348.00" x2="246.66" y2="349.90" stroke="#555" stroke-width="0.8" />
<line x1="248.27" y1="348.00" x2="248.27" y2="349.90" stroke="#555" stroke-width="0.8" />
<line x1="249.64" y1="348.00" x2="249.64" y2="349.90" stroke="#555" stroke-width="0.8" />
<line x1="250.82" y1="348.00" x2="250.82" y2="349.90" stroke="#555" stroke-width="0.8" />
<line x1="251.87" y1="348.00" x2="251.87" y2="349.90" stroke="#555" stroke-width="0.8" />
<line x1="232.40" y1="348.00" x2="232.40" y2="350.60" stroke="#111" stroke-width="1.2" />
<line x1="210.90" y1="348.00" x2="210.90" y2="350.60" stroke="#111" stroke-width="1.2" />
<line x1="186.90" y1="348.00" x2="186.90" y2="350.60" stroke="#111" stroke-width="1.2" />
<line x1="252.80" y1="348.00" x2="252.80" y2="350.60" stroke="#111" stroke-width="1.2" />
<line x1="176.10" y1="348.00" x2="176.10" y2="350.60" stroke="#111" stroke-width="1.2" />
<rect x="159.3" y="253.3" width="96.39999999999998" height="94.69999999999999" fill="none" stroke="#111" stroke-width="1.45"/>
<text x="187" y="249.7" font-size="12.6" fill="#6a6a6a" stroke="#6a6a6a" stroke-width="0.15" text-anchor="start" font-weight="normal" >Stage 2</text>
<text x="176.3" y="357.6" font-size="5.4" fill="#333" text-anchor="middle">0</text>
<text x="187.8" y="357.6" font-size="5.4" fill="#333" text-anchor="middle">10<tspan dy="-2" font-size="3.6">3</tspan></text>
<text x="211.8" y="357.6" font-size="5.4" fill="#333" text-anchor="middle">10<tspan dy="-2" font-size="3.6">4</tspan></text>
<text x="233.3" y="357.6" font-size="5.4" fill="#333" text-anchor="middle">10<tspan dy="-2" font-size="3.6">5</tspan></text>
<text x="253.70000000000002" y="357.6" font-size="5.4" fill="#333" text-anchor="middle">10<tspan dy="-2" font-size="3.6">6</tspan></text>
<line x1="270.80" y1="348.00" x2="273.00" y2="348.00" stroke="#111" stroke-width="1.1" />
<text x="269.2" y="349.8" font-size="5" fill="#444" stroke="#444" stroke-width="0.08" text-anchor="end" font-weight="normal" >0</text>
<line x1="270.80" y1="330.06" x2="273.00" y2="330.06" stroke="#111" stroke-width="1.1" />
<text x="269.2" y="331.86" font-size="5" fill="#444" stroke="#444" stroke-width="0.08" text-anchor="end" font-weight="normal" >20</text>
<line x1="270.80" y1="312.12" x2="273.00" y2="312.12" stroke="#111" stroke-width="1.1" />
<text x="269.2" y="313.92" font-size="5" fill="#444" stroke="#444" stroke-width="0.08" text-anchor="end" font-weight="normal" >40</text>
<line x1="270.80" y1="294.18" x2="273.00" y2="294.18" stroke="#111" stroke-width="1.1" />
<text x="269.2" y="295.98" font-size="5" fill="#444" stroke="#444" stroke-width="0.08" text-anchor="end" font-weight="normal" >60</text>
<line x1="270.80" y1="276.24" x2="273.00" y2="276.24" stroke="#111" stroke-width="1.1" />
<text x="269.2" y="278.04" font-size="5" fill="#444" stroke="#444" stroke-width="0.08" text-anchor="end" font-weight="normal" >80</text>
<line x1="270.80" y1="258.30" x2="273.00" y2="258.30" stroke="#111" stroke-width="1.1" />
<text x="269.2" y="260.1" font-size="5" fill="#444" stroke="#444" stroke-width="0.08" text-anchor="end" font-weight="normal" >100</text>
<line x1="307.82" y1="348.00" x2="307.82" y2="349.90" stroke="#555" stroke-width="0.8" />
<line x1="312.05" y1="348.00" x2="312.05" y2="349.90" stroke="#555" stroke-width="0.8" />
<line x1="315.05" y1="348.00" x2="315.05" y2="349.90" stroke="#555" stroke-width="0.8" />
<line x1="317.38" y1="348.00" x2="317.38" y2="349.90" stroke="#555" stroke-width="0.8" />
<line x1="319.28" y1="348.00" x2="319.28" y2="349.90" stroke="#555" stroke-width="0.8" />
<line x1="320.88" y1="348.00" x2="320.88" y2="349.90" stroke="#555" stroke-width="0.8" />
<line x1="322.27" y1="348.00" x2="322.27" y2="349.90" stroke="#555" stroke-width="0.8" />
<line x1="323.50" y1="348.00" x2="323.50" y2="349.90" stroke="#555" stroke-width="0.8" />
<line x1="331.07" y1="348.00" x2="331.07" y2="349.90" stroke="#555" stroke-width="0.8" />
<line x1="334.86" y1="348.00" x2="334.86" y2="349.90" stroke="#555" stroke-width="0.8" />
<line x1="337.54" y1="348.00" x2="337.54" y2="349.90" stroke="#555" stroke-width="0.8" />
<line x1="339.63" y1="348.00" x2="339.63" y2="349.90" stroke="#555" stroke-width="0.8" />
<line x1="341.33" y1="348.00" x2="341.33" y2="349.90" stroke="#555" stroke-width="0.8" />
<line x1="342.77" y1="348.00" x2="342.77" y2="349.90" stroke="#555" stroke-width="0.8" />
<line x1="344.02" y1="348.00" x2="344.02" y2="349.90" stroke="#555" stroke-width="0.8" />
<line x1="345.12" y1="348.00" x2="345.12" y2="349.90" stroke="#555" stroke-width="0.8" />
<line x1="352.24" y1="348.00" x2="352.24" y2="349.90" stroke="#555" stroke-width="0.8" />
<line x1="355.83" y1="348.00" x2="355.83" y2="349.90" stroke="#555" stroke-width="0.8" />
<line x1="358.38" y1="348.00" x2="358.38" y2="349.90" stroke="#555" stroke-width="0.8" />
<line x1="360.36" y1="348.00" x2="360.36" y2="349.90" stroke="#555" stroke-width="0.8" />
<line x1="361.97" y1="348.00" x2="361.97" y2="349.90" stroke="#555" stroke-width="0.8" />
<line x1="363.34" y1="348.00" x2="363.34" y2="349.90" stroke="#555" stroke-width="0.8" />
<line x1="364.52" y1="348.00" x2="364.52" y2="349.90" stroke="#555" stroke-width="0.8" />
<line x1="365.57" y1="348.00" x2="365.57" y2="349.90" stroke="#555" stroke-width="0.8" />
<line x1="346.10" y1="348.00" x2="346.10" y2="350.60" stroke="#111" stroke-width="1.2" />
<line x1="300.60" y1="348.00" x2="300.60" y2="350.60" stroke="#111" stroke-width="1.2" />
<line x1="366.50" y1="348.00" x2="366.50" y2="350.60" stroke="#111" stroke-width="1.2" />
<line x1="324.60" y1="348.00" x2="324.60" y2="350.60" stroke="#111" stroke-width="1.2" />
<line x1="289.80" y1="348.00" x2="289.80" y2="350.60" stroke="#111" stroke-width="1.2" />
<rect x="273" y="253.3" width="94" height="94.69999999999999" fill="none" stroke="#111" stroke-width="1.45"/>
<text x="294.6" y="250" font-size="12.6" fill="#6a6a6a" stroke="#6a6a6a" stroke-width="0.15" text-anchor="start" font-weight="normal" >Stage 3</text>
<text x="290" y="357.6" font-size="5.4" fill="#333" text-anchor="middle">0</text>
<text x="301.5" y="357.6" font-size="5.4" fill="#333" text-anchor="middle">10<tspan dy="-2" font-size="3.6">3</tspan></text>
<text x="325.5" y="357.6" font-size="5.4" fill="#333" text-anchor="middle">10<tspan dy="-2" font-size="3.6">4</tspan></text>
<text x="347" y="357.6" font-size="5.4" fill="#333" text-anchor="middle">10<tspan dy="-2" font-size="3.6">5</tspan></text>
<text x="367.4" y="357.6" font-size="5.4" fill="#333" text-anchor="middle">10<tspan dy="-2" font-size="3.6">6</tspan></text>
<text transform="translate(33.7,150.6) rotate(-90)" font-size="13.2" fill="#111" stroke="#111" stroke-width="0.15">Percent of Max</text>
<text transform="translate(33.7,345.6) rotate(-90)" font-size="13.2" fill="#111" stroke="#111" stroke-width="0.15">Percent of Max</text>
<line x1="47.00" y1="172.50" x2="178.80" y2="172.50" stroke="#111" stroke-width="1.5" />
<line x1="237.00" y1="172.50" x2="368.00" y2="172.50" stroke="#111" stroke-width="1.5" />
<text x="187.2" y="176.9" font-size="13.4" fill="#111" stroke="#111" stroke-width="0.15" text-anchor="start" font-weight="normal" >Cyto-ID</text>
<line x1="49.00" y1="367.20" x2="181.30" y2="367.20" stroke="#111" stroke-width="1.5" />
<line x1="234.60" y1="367.20" x2="367.00" y2="367.20" stroke="#111" stroke-width="1.5" />
<text x="185.8" y="371" font-size="13.2" fill="#111" stroke="#111" stroke-width="0.15" text-anchor="start" font-weight="normal" >LC3A/B</text>
<line x1="444.30" y1="171.30" x2="446.30" y2="171.30" stroke="#000" stroke-width="1.1" />
<text x="441.7" y="173.70000000000002" font-size="9.7" fill="#1a1a1a" stroke="#1a1a1a" stroke-width="0.15" text-anchor="end" font-weight="normal" >0</text>
<line x1="444.30" y1="151.83" x2="446.30" y2="151.83" stroke="#000" stroke-width="1.1" />
<text x="443.2" y="154.22857142857146" font-size="9.7" fill="#1a1a1a" stroke="#1a1a1a" stroke-width="0.15" text-anchor="end" font-weight="normal" >200</text>
<line x1="444.30" y1="132.36" x2="446.30" y2="132.36" stroke="#000" stroke-width="1.1" />
<text x="443.2" y="134.75714285714287" font-size="9.7" fill="#1a1a1a" stroke="#1a1a1a" stroke-width="0.15" text-anchor="end" font-weight="normal" >400</text>
<line x1="444.30" y1="112.89" x2="446.30" y2="112.89" stroke="#000" stroke-width="1.1" />
<text x="443.2" y="115.2857142857143" font-size="9.7" fill="#1a1a1a" stroke="#1a1a1a" stroke-width="0.15" text-anchor="end" font-weight="normal" >600</text>
<line x1="444.30" y1="93.41" x2="446.30" y2="93.41" stroke="#000" stroke-width="1.1" />
<text x="443.2" y="95.81428571428573" font-size="9.7" fill="#1a1a1a" stroke="#1a1a1a" stroke-width="0.15" text-anchor="end" font-weight="normal" >800</text>
<line x1="444.30" y1="73.94" x2="446.30" y2="73.94" stroke="#000" stroke-width="1.1" />
<text x="443.2" y="76.34285714285716" font-size="9.7" fill="#1a1a1a" stroke="#1a1a1a" stroke-width="0.15" text-anchor="end" font-weight="normal" >1000</text>
<line x1="444.30" y1="54.47" x2="446.30" y2="54.47" stroke="#000" stroke-width="1.1" />
<text x="443.2" y="56.871428571428574" font-size="9.7" fill="#1a1a1a" stroke="#1a1a1a" stroke-width="0.15" text-anchor="end" font-weight="normal" >1200</text>
<line x1="444.30" y1="35.00" x2="446.30" y2="35.00" stroke="#000" stroke-width="1.1" />
<text x="443.2" y="37.4" font-size="9.7" fill="#1a1a1a" stroke="#1a1a1a" stroke-width="0.15" text-anchor="end" font-weight="normal" >1400</text>
<line x1="446.30" y1="34.50" x2="446.30" y2="171.30" stroke="#000" stroke-width="1.3" />
<line x1="445.70" y1="171.30" x2="673.40" y2="171.30" stroke="#000" stroke-width="1.3" />
<line x1="521.80" y1="171.30" x2="521.80" y2="173.30" stroke="#000" stroke-width="1" />
<line x1="596.70" y1="171.30" x2="596.70" y2="173.30" stroke="#000" stroke-width="1" />
<line x1="671.50" y1="171.30" x2="671.50" y2="173.30" stroke="#000" stroke-width="1" />
<line x1="473.55" y1="65.40" x2="473.55" y2="72.10" stroke="#000" stroke-width="1.3" />
<line x1="471.85" y1="65.40" x2="475.25" y2="65.40" stroke="#000" stroke-width="1.3" />
<rect x="462.2" y="72.1" width="22.69999999999999" height="99.20000000000002" fill="#000" stroke="#000" stroke-width="1.2"/>
<line x1="495.45" y1="93.40" x2="495.45" y2="100.60" stroke="#000" stroke-width="1.3" />
<line x1="493.75" y1="93.40" x2="497.15" y2="93.40" stroke="#000" stroke-width="1.3" />
<rect x="484.9" y="100.6" width="21.100000000000023" height="70.70000000000002" fill="#fff" stroke="#000" stroke-width="1.2"/>
<line x1="549.45" y1="51.20" x2="549.45" y2="61.70" stroke="#000" stroke-width="1.3" />
<line x1="547.75" y1="51.20" x2="551.15" y2="51.20" stroke="#000" stroke-width="1.3" />
<rect x="538.3" y="61.7" width="22.300000000000068" height="109.60000000000001" fill="#000" stroke="#000" stroke-width="1.2"/>
<line x1="571.15" y1="93.40" x2="571.15" y2="103.20" stroke="#000" stroke-width="1.3" />
<line x1="569.45" y1="93.40" x2="572.85" y2="93.40" stroke="#000" stroke-width="1.3" />
<rect x="560.6" y="103.2" width="21.100000000000023" height="68.10000000000001" fill="#fff" stroke="#000" stroke-width="1.2"/>
<line x1="624.45" y1="47.00" x2="624.45" y2="61.30" stroke="#000" stroke-width="1.3" />
<line x1="622.75" y1="47.00" x2="626.15" y2="47.00" stroke="#000" stroke-width="1.3" />
<rect x="613.2" y="61.3" width="22.5" height="110.00000000000001" fill="#000" stroke="#000" stroke-width="1.2"/>
<line x1="646.35" y1="80.00" x2="646.35" y2="89.50" stroke="#000" stroke-width="1.3" />
<line x1="644.65" y1="80.00" x2="648.05" y2="80.00" stroke="#000" stroke-width="1.3" />
<rect x="635.7" y="89.5" width="21.299999999999955" height="81.80000000000001" fill="#fff" stroke="#000" stroke-width="1.2"/>
<text x="465.6" y="42.4" font-size="12.1" fill="#111" stroke="#111" stroke-width="0.15" text-anchor="start" font-weight="normal" >*</text>
<text x="469.3" y="42.4" font-size="12.1" fill="#111" stroke="#111" stroke-width="0.15" text-anchor="start" font-weight="normal" >p=0.03</text>
<line x1="469.30" y1="44.70" x2="505.50" y2="44.70" stroke="#111" stroke-width="1.1" />
<text x="535.4" y="42.4" font-size="12.1" fill="#111" stroke="#111" stroke-width="0.15" text-anchor="start" font-weight="normal" >*</text>
<text x="541.2" y="42.4" font-size="12.1" fill="#111" stroke="#111" stroke-width="0.15" text-anchor="start" font-weight="normal" >p=0.04</text>
<line x1="541.20" y1="44.70" x2="577.90" y2="44.70" stroke="#111" stroke-width="1.1" />
<text x="617" y="42.4" font-size="12.1" fill="#111" stroke="#111" stroke-width="0.15" text-anchor="start" font-weight="normal" >p=0.30</text>
<line x1="617.00" y1="44.70" x2="654.00" y2="44.70" stroke="#111" stroke-width="1.1" />
<text transform="translate(420.5,134.6) rotate(-90)" font-size="13.6" fill="#111" stroke="#111" stroke-width="0.15">MFI of Cyto-ID</text>
<rect x="493.8" y="11.2" width="8.5" height="8.0" fill="#000" stroke="none" stroke-width="1"/>
<text x="504.2" y="19.299999999999997" font-size="12.1" fill="#111" stroke="#111" stroke-width="0.15" text-anchor="start" font-weight="normal" >WT</text>
<rect x="527.8" y="12.2" width="8.3" height="7.2" fill="#fff" stroke="#000" stroke-width="1.1"/>
<text x="540.8" y="19.299999999999997" font-size="11.9" fill="#111" stroke="#111" stroke-width="0.15" text-anchor="start" font-weight="normal" >Hdac3 cKO</text>
<text x="467" y="185.8" font-size="13.3" fill="#111" stroke="#111" stroke-width="0.15" text-anchor="start" font-weight="normal" >Stage 1</text>
<text x="542" y="185.8" font-size="13.3" fill="#111" stroke="#111" stroke-width="0.15" text-anchor="start" font-weight="normal" >Stage 2</text>
<text x="618.3" y="185.8" font-size="13.3" fill="#111" stroke="#111" stroke-width="0.15" text-anchor="start" font-weight="normal" >Stage 3</text>
<line x1="444.90" y1="366.40" x2="446.90" y2="366.40" stroke="#000" stroke-width="1.1" />
<text x="441.7" y="368.79999999999995" font-size="9.7" fill="#1a1a1a" stroke="#1a1a1a" stroke-width="0.15" text-anchor="end" font-weight="normal" >0</text>
<line x1="444.90" y1="344.18" x2="446.90" y2="344.18" stroke="#000" stroke-width="1.1" />
<text x="443.2" y="346.5833333333333" font-size="9.7" fill="#1a1a1a" stroke="#1a1a1a" stroke-width="0.15" text-anchor="end" font-weight="normal" >50</text>
<line x1="444.90" y1="321.97" x2="446.90" y2="321.97" stroke="#000" stroke-width="1.1" />
<text x="443.2" y="324.3666666666666" font-size="9.7" fill="#1a1a1a" stroke="#1a1a1a" stroke-width="0.15" text-anchor="end" font-weight="normal" >100</text>
<line x1="444.90" y1="299.75" x2="446.90" y2="299.75" stroke="#000" stroke-width="1.1" />
<text x="443.2" y="302.15" font-size="9.7" fill="#1a1a1a" stroke="#1a1a1a" stroke-width="0.15" text-anchor="end" font-weight="normal" >150</text>
<line x1="444.90" y1="277.53" x2="446.90" y2="277.53" stroke="#000" stroke-width="1.1" />
<text x="443.2" y="279.9333333333333" font-size="9.7" fill="#1a1a1a" stroke="#1a1a1a" stroke-width="0.15" text-anchor="end" font-weight="normal" >200</text>
<line x1="444.90" y1="255.32" x2="446.90" y2="255.32" stroke="#000" stroke-width="1.1" />
<text x="443.2" y="257.71666666666664" font-size="9.7" fill="#1a1a1a" stroke="#1a1a1a" stroke-width="0.15" text-anchor="end" font-weight="normal" >250</text>
<line x1="444.90" y1="233.10" x2="446.90" y2="233.10" stroke="#000" stroke-width="1.1" />
<text x="443.2" y="235.5" font-size="9.7" fill="#1a1a1a" stroke="#1a1a1a" stroke-width="0.15" text-anchor="end" font-weight="normal" >300</text>
<line x1="446.90" y1="232.60" x2="446.90" y2="366.40" stroke="#000" stroke-width="1.3" />
<line x1="446.30" y1="366.40" x2="673.40" y2="366.40" stroke="#000" stroke-width="1.3" />
<line x1="521.80" y1="366.40" x2="521.80" y2="368.40" stroke="#000" stroke-width="1" />
<line x1="596.70" y1="366.40" x2="596.70" y2="368.40" stroke="#000" stroke-width="1" />
<line x1="671.50" y1="366.40" x2="671.50" y2="368.40" stroke="#000" stroke-width="1" />
<line x1="473.50" y1="241.30" x2="473.50" y2="248.80" stroke="#000" stroke-width="1.3" />
<line x1="471.80" y1="241.30" x2="475.20" y2="241.30" stroke="#000" stroke-width="1.3" />
<rect x="462" y="248.8" width="23" height="117.59999999999997" fill="#000" stroke="#000" stroke-width="1.2"/>
<line x1="495.50" y1="276.30" x2="495.50" y2="291.50" stroke="#000" stroke-width="1.3" />
<line x1="493.80" y1="276.30" x2="497.20" y2="276.30" stroke="#000" stroke-width="1.3" />
<rect x="485" y="291.5" width="21" height="74.89999999999998" fill="#fff" stroke="#000" stroke-width="1.2"/>
<line x1="548.75" y1="241.30" x2="548.75" y2="251.30" stroke="#000" stroke-width="1.3" />
<line x1="547.05" y1="241.30" x2="550.45" y2="241.30" stroke="#000" stroke-width="1.3" />
<rect x="537.5" y="251.3" width="22.5" height="115.09999999999997" fill="#000" stroke="#000" stroke-width="1.2"/>
<line x1="570.50" y1="276.30" x2="570.50" y2="293.00" stroke="#000" stroke-width="1.3" />
<line x1="568.80" y1="276.30" x2="572.20" y2="276.30" stroke="#000" stroke-width="1.3" />
<rect x="560" y="293" width="21" height="73.39999999999998" fill="#fff" stroke="#000" stroke-width="1.2"/>
<line x1="623.65" y1="264.30" x2="623.65" y2="273.30" stroke="#000" stroke-width="1.3" />
<line x1="621.95" y1="264.30" x2="625.35" y2="264.30" stroke="#000" stroke-width="1.3" />
<rect x="612.8" y="273.3" width="21.700000000000045" height="93.09999999999997" fill="#000" stroke="#000" stroke-width="1.2"/>
<line x1="645.00" y1="275.50" x2="645.00" y2="290.50" stroke="#000" stroke-width="1.3" />
<line x1="643.30" y1="275.50" x2="646.70" y2="275.50" stroke="#000" stroke-width="1.3" />
<rect x="634.5" y="290.5" width="21.0" height="75.89999999999998" fill="#fff" stroke="#000" stroke-width="1.2"/>
<text x="461.3" y="234.4" font-size="12.1" fill="#111" stroke="#111" stroke-width="0.15" text-anchor="start" font-weight="normal" >*</text>
<text x="465.5" y="234.4" font-size="12.1" fill="#111" stroke="#111" stroke-width="0.15" text-anchor="start" font-weight="normal" >p=0.01</text>
<line x1="465.50" y1="236.70" x2="503.00" y2="236.70" stroke="#111" stroke-width="1.1" />
<text x="538.8" y="234.4" font-size="12.1" fill="#111" stroke="#111" stroke-width="0.15" text-anchor="start" font-weight="normal" >*</text>
<text x="542.5" y="234.4" font-size="12.1" fill="#111" stroke="#111" stroke-width="0.15" text-anchor="start" font-weight="normal" >p=0.03</text>
<line x1="542.50" y1="236.70" x2="579.50" y2="236.70" stroke="#111" stroke-width="1.1" />
<text x="613" y="234.4" font-size="12.1" fill="#111" stroke="#111" stroke-width="0.15" text-anchor="start" font-weight="normal" >p=0.17</text>
<line x1="613.00" y1="236.70" x2="651.20" y2="236.70" stroke="#111" stroke-width="1.1" />
<text transform="translate(422.2,327.8) rotate(-90)" font-size="13.6" fill="#111" stroke="#111" stroke-width="0.15">MFI of LC3 A/B</text>
<rect x="493.8" y="208.2" width="8.5" height="8.0" fill="#000" stroke="none" stroke-width="1"/>
<text x="504.2" y="217.2" font-size="12.1" fill="#111" stroke="#111" stroke-width="0.15" text-anchor="start" font-weight="normal" >WT</text>
<rect x="527.8" y="209.2" width="8.3" height="7.2" fill="#fff" stroke="#000" stroke-width="1.1"/>
<text x="540.8" y="217.2" font-size="11.9" fill="#111" stroke="#111" stroke-width="0.15" text-anchor="start" font-weight="normal" >Hdac3 cKO</text>
<text x="471.3" y="379.0" font-size="13.3" fill="#111" stroke="#111" stroke-width="0.15" text-anchor="start" font-weight="normal" >Stage 1</text>
<text x="546.2" y="379.0" font-size="13.3" fill="#111" stroke="#111" stroke-width="0.15" text-anchor="start" font-weight="normal" >Stage 2</text>
<text x="621" y="379.0" font-size="13.3" fill="#111" stroke="#111" stroke-width="0.15" text-anchor="start" font-weight="normal" >Stage 3</text>
</svg>
</body></html>
